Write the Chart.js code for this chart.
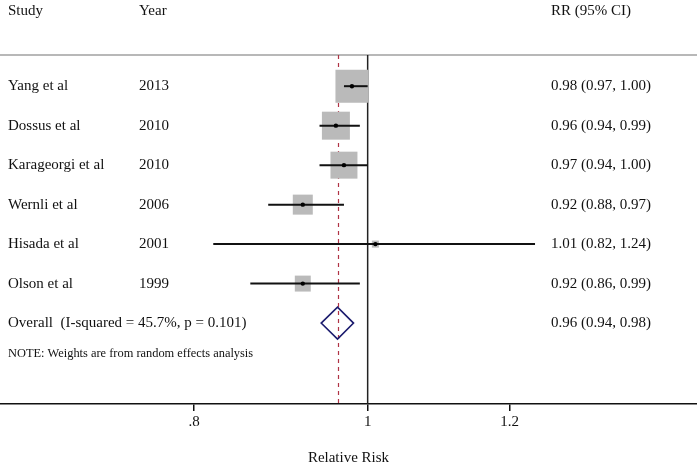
<!DOCTYPE html>
<html>
<head>
<meta charset="utf-8">
<script src="https://cdn.jsdelivr.net/npm/chart.js@4"></script>
<style>
  html, body { margin: 0; padding: 0; background: #fff; }
  #wrap { width: 697px; height: 467px; position: relative; }
</style>
</head>
<body>
<div id="wrap"><canvas id="forest"></canvas></div>
<script>
// study data
const studies = ['Yang et al', 'Dossus et al', 'Karageorgi et al', 'Wernli et al', 'Hisada et al', 'Olson et al'];
const years = ['2013', '2010', '2010', '2006', '2001', '1999'];
const rr = [0.98, 0.96, 0.97, 0.92, 1.01, 0.92];
const lower = [0.97, 0.94, 0.94, 0.88, 0.82, 0.86];
const upper = [1.00, 0.99, 1.00, 0.97, 1.24, 0.99];
const weights = [32.9, 23.7, 22.0, 12.1, 1.5, 7.7]; // % weight, box area

// pooled estimate
const overallLabel = 'Overall  (I-squared = 45.7%, p = 0.101)';
const overallRR = 0.962;
const overallLower = 0.942;
const overallUpper = 0.982;
const overallText = '0.96 (0.94, 0.98)';

const tickValues = [0.8, 1, 1.2];
const tickLabels = ['.8', '1', '1.2'];

const FONT = '"Liberation Serif", "Times New Roman", serif';
const rows = studies.map((s, i) => i);
const overallRow = studies.length;

function fmt(v) { return v.toFixed(2); }

const forestPlugin = {
  id: 'forest',
  beforeDatasetsDraw(chart) {
    const { ctx, chartArea: a, scales: { x, y } } = chart;
    ctx.save();
    // header rule
    ctx.strokeStyle = '#a0a0a0';
    ctx.lineWidth = 1.5;
    ctx.beginPath();
    ctx.moveTo(0, a.top);
    ctx.lineTo(chart.width, a.top);
    ctx.stroke();
    // null line
    const x1 = x.getPixelForValue(1);
    ctx.strokeStyle = '#222';
    ctx.lineWidth = 1.5;
    ctx.beginPath();
    ctx.moveTo(x1, a.top);
    ctx.lineTo(x1, a.bottom);
    ctx.stroke();
    // pooled estimate line
    const xo = Math.round(x.getPixelForValue(overallRR)) + 0.5;
    ctx.strokeStyle = '#b03345';
    ctx.lineWidth = 1.2;
    ctx.setLineDash([4, 4]);
    ctx.beginPath();
    ctx.moveTo(xo, a.top);
    ctx.lineTo(xo, a.bottom);
    ctx.stroke();
    ctx.restore();
  },
  beforeDatasetDraw(chart, args) {
    if (args.index !== 0) return;
    const { ctx, scales: { x, y } } = chart;
    ctx.save();
    ctx.strokeStyle = '#111';
    ctx.lineWidth = 2;
    rows.forEach(i => {
      const py = y.getPixelForValue(i);
      ctx.beginPath();
      ctx.moveTo(x.getPixelForValue(lower[i]), py);
      ctx.lineTo(x.getPixelForValue(upper[i]), py);
      ctx.stroke();
    });
    ctx.restore();
  },
  afterDatasetsDraw(chart) {
    const { ctx, scales: { x, y } } = chart;
    ctx.save();
    // overall diamond
    const py = y.getPixelForValue(overallRow);
    const xl = x.getPixelForValue(overallLower);
    const xr = x.getPixelForValue(overallUpper);
    const xc = x.getPixelForValue(overallRR);
    const h = 16;
    ctx.strokeStyle = '#1c1c6e';
    ctx.lineWidth = 1.6;
    ctx.beginPath();
    ctx.moveTo(xl, py);
    ctx.lineTo(xc, py - h);
    ctx.lineTo(xr, py);
    ctx.lineTo(xc, py + h);
    ctx.closePath();
    ctx.stroke();

    // text columns
    ctx.fillStyle = '#111';
    ctx.font = '15px ' + FONT;
    ctx.textBaseline = 'middle';
    ctx.textAlign = 'left';
    const hy = y.getPixelForValue(-1.9);
    ctx.fillText('Study', 8, hy);
    ctx.fillText('Year', 139, hy);
    ctx.fillText('RR (95% CI)', 551, hy);
    rows.forEach(i => {
      const ry = y.getPixelForValue(i);
      ctx.fillText(studies[i], 8, ry);
      ctx.fillText(years[i], 139, ry);
      ctx.fillText(fmt(rr[i]) + ' (' + fmt(lower[i]) + ', ' + fmt(upper[i]) + ')', 551, ry);
    });
    ctx.fillText(overallLabel, 8, py);
    ctx.fillText(overallText, 551, py);
    ctx.font = '12.4px ' + FONT;
    ctx.fillText('NOTE: Weights are from random effects analysis', 8, y.getPixelForValue(6.77));
    ctx.restore();
  }
};

new Chart(document.getElementById('forest'), {
  type: 'scatter',
  data: {
    datasets: [
      {
        label: 'RR',
        data: rows.map(i => ({ x: rr[i], y: i })),
        pointStyle: 'circle',
        pointRadius: 2.2,
        backgroundColor: '#000',
        borderColor: '#000',
        borderWidth: 0
      },
      {
        label: 'weight',
        data: rows.map(i => ({ x: rr[i], y: i })),
        pointStyle: 'rect',
        pointRadius: rows.map(i => 5.75 * Math.sqrt(weights[i]) / Math.SQRT2),
        backgroundColor: '#bababa',
        borderWidth: 0
      }
    ]
  },
  options: {
    responsive: true,
    maintainAspectRatio: false,
    animation: false,
    layout: { autoPadding: false, padding: { top: 55, left: 0, right: 0, bottom: 0 } },
    plugins: {
      legend: { display: false },
      tooltip: { enabled: false }
    },
    scales: {
      x: {
        type: 'logarithmic',
        bounds: 'data',
        min: 0.6234,
        max: 1.527,
        afterBuildTicks: s => { s.ticks = tickValues.map(v => ({ value: v })); },
        afterFit: s => { s.height = 63; s.paddingLeft = 0; s.paddingRight = 0; },
        ticks: {
          callback: (v, i) => tickLabels[i],
          color: '#111',
          font: { family: FONT, size: 15 },
          padding: 2,
          maxRotation: 0,
          autoSkip: false
        },
        grid: {
          drawOnChartArea: false,
          drawTicks: true,
          tickLength: 7,
          color: '#111',
          lineWidth: 1.5
        },
        border: { display: true, color: '#111', width: 1.5 },
        title: {
          display: true,
          text: 'Relative Risk',
          color: '#111',
          font: { family: FONT, size: 15 },
          padding: { top: 0, bottom: 0 }
        }
      },
      y: {
        display: false,
        reverse: true,
        min: -0.79,
        max: 8.05
      }
    }
  },
  plugins: [forestPlugin]
});
</script>
</body>
</html>
